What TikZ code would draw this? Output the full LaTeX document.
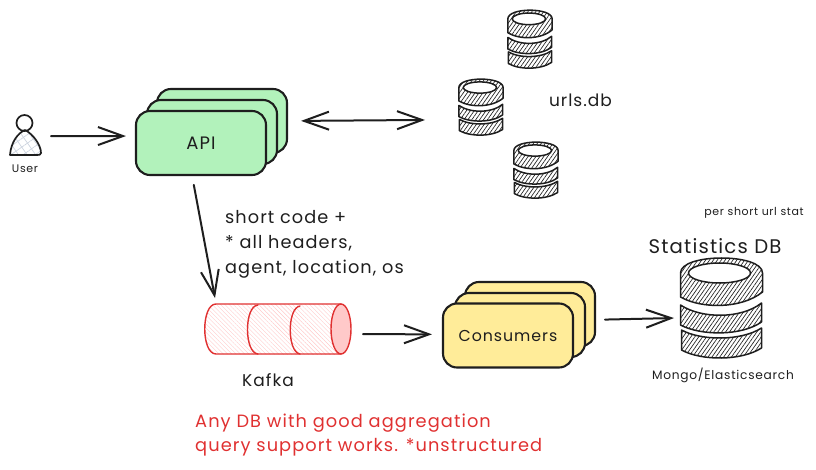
\documentclass[tikz,border=0pt]{standalone}
\usepackage{fontspec}
\setmainfont[LetterSpace=6]{Poppins}
\usetikzlibrary{arrows.meta, patterns.meta}
\definecolor{ink}{HTML}{1E1E1E}
\definecolor{apigreen}{HTML}{B2F2BB}
\definecolor{consumeryellow}{HTML}{FFEC99}
\definecolor{kafkared}{HTML}{E03131}
\definecolor{kafkapink}{HTML}{FFC9C9}
\definecolor{userhatch}{HTML}{CDD4DF}
\begin{document}
\begin{tikzpicture}[x=1pt, y=-1pt, line join=round, line cap=round, color=ink,
  service/.style = {rectangle, draw=ink, line width=2.1pt, rounded corners=14pt, minimum width=130pt, minimum height=64pt, inner sep=0pt},
  apibox/.style = {service, fill=apigreen},
  consumerbox/.style = {service, fill=consumeryellow},
  hollow/.style = {rectangle, inner sep=0pt, outer sep=0pt},
  tag/.style = {inner sep=0pt, text=ink},
  flow/.style = {line width=2pt, -{Straight Barb[length=25pt, width=18pt, line width=2pt]}},
  bothways/.style = {line width=2pt, {Straight Barb[length=25pt, width=18pt, line width=2pt]}-{Straight Barb[length=25pt, width=18pt, line width=2pt]}},
  dbhatch/.style = {draw=ink, line width=1.5pt, preaction={fill=white}, pattern={Lines[angle=55, distance=3.2pt, line width=0.65pt]}, pattern color=ink},
  dbstack/.pic = {
    \path [dbhatch] (-40, 24) -- (-40, 44) .. controls (-20, 55) and (20, 55) .. (40, 42) -- (40, 22) .. controls (20, 35) and (-20, 35) .. (-40, 24) -- cycle;
    \path [dbhatch] (-41, -1) -- (-41, 19) .. controls (-20, 30) and (20, 30) .. (40, 16) -- (40, -3) .. controls (20, 13) and (-20, 13) .. (-41, -1) -- cycle;
    \path [dbhatch] (-41, -33) -- (-41, -9) .. controls (-20, 3) and (20, 3) .. (41, -14) -- (41, -33) .. controls (41, -53) and (-41, -53) .. (-41, -33) -- cycle;
    \draw [line width=1.5pt, fill=white] (-2, -33) ellipse [x radius=31, y radius=10];
  }]
  \useasboundingbox (0, 0) rectangle (816, 470);

  % User.
  \node at (24.5, 123) [circle, draw=ink, line width=1.7pt, fill=white, minimum size=16pt, inner sep=0pt, name=UserHead] {};
  \node at (25.5, 142.5) [hollow, minimum width=31pt, minimum height=25pt, name=UserBody] {};
  \path [pattern={Lines[angle=35, distance=7pt, line width=0.7pt]}, pattern color=userhatch, postaction={pattern={Lines[angle=-55, distance=7pt, line width=0.7pt]}, pattern color=userhatch}]
        (10, 155) .. controls (11, 142) and (18, 133) .. (25, 130) .. controls (33, 134) and (41, 145) .. (41, 153) .. controls (41, 155) and (39, 155) .. (37, 155) -- cycle;
  \draw [line width=1.7pt]
        (10, 155) .. controls (11, 142) and (18, 133) .. (25, 130) .. controls (33, 134) and (41, 145) .. (41, 153) .. controls (41, 155) and (39, 155) .. (37, 155) -- cycle;
  \node at (25, 169) [tag, font=\fontsize{11pt}{12}\selectfont, name=UserText] {User};

  % API.
  \node at (222, 121) [apibox, name=ApiBack] {};
  \node at (212, 132) [apibox, name=ApiMiddle] {};
  \node at (201, 143) [apibox, name=ApiFront, font=\fontsize{18pt}{20}\selectfont] {API};

  % Url databases.
  \node at (530, 39) [hollow, minimum width=44pt, minimum height=58pt, name=UrlsTop] {};
  \pic [xscale=0.54, yscale=0.58] at (530, 38) {dbstack};
  \node at (481, 107) [hollow, minimum width=44pt, minimum height=56pt, name=UrlsMiddle] {};
  \pic [xscale=0.54, yscale=0.56] at (481, 106) {dbstack};
  \node at (536, 170) [hollow, minimum width=44pt, minimum height=56pt, name=UrlsBottom] {};
  \pic [xscale=0.54, yscale=0.56] at (536, 169) {dbstack};
  \node at (580.5, 100) [tag, font=\fontsize{17pt}{19}\selectfont, name=UrlsText] {urls.db};

  % Kafka.
  \node at (278, 329) [hollow, minimum width=146pt, minimum height=50pt, name=Kafka] {};
  \path [pattern={Lines[angle=-45, distance=3pt, line width=0.4pt]}, pattern color=kafkapink]
        (216, 304) .. controls (201, 304) and (201, 354) .. (216, 354) -- (342, 355) -- (342, 304) -- cycle;
  \draw [line width=1.4pt, kafkared]
        (341, 304) -- (216, 304) .. controls (201, 304) and (201, 354) .. (216, 354) -- (341, 354);
  \draw [line width=1.4pt, kafkared]
        (258, 305) .. controls (244, 306) and (244, 353) .. (258, 354);
  \draw [line width=1.4pt, kafkared]
        (300, 306) .. controls (287, 308) and (287, 352) .. (300, 354);
  \draw [line width=1.4pt, kafkared, fill=kafkapink] (341, 329) ellipse [x radius=10, y radius=25];
  \node at (268, 380) [tag, font=\fontsize{17pt}{19}\selectfont, name=KafkaText] {Kafka};

  % Consumers.
  \node at (530, 314) [consumerbox, name=ConsumersBack] {};
  \node at (520, 325) [consumerbox, name=ConsumersMiddle] {};
  \node at (508, 335.5) [consumerbox, name=ConsumersFront, font=\fontsize{15.8pt}{18}\selectfont] {Consumers};

  % Statistics database.
  \node at (721.5, 306) [hollow, minimum width=83pt, minimum height=97pt, name=StatsDb] {};
  \pic at (721.5, 306) {dbstack};
  \node at (754, 213) [tag, font=\fontsize{11pt}{12}\selectfont, name=StatsNote] {per short url stat};
  \node at (715, 246) [tag, font=\fontsize{19.7pt}{22}\selectfont, name=StatsTitle] {Statistics DB};
  \node at (723, 375) [tag, font=\fontsize{12.2pt}{14}\selectfont, name=StatsEngine] {Mongo/Elasticsearch};

  % Notes.
  \node at (225, 244.5) [tag, anchor=west, align=left, font=\fontsize{17.7pt}{25pt}\selectfont, name=EventText] {short code +\\* all headers,\\agent, location, os};
  \node at (195, 435.5) [tag, anchor=west, align=left, text=kafkared, font=\fontsize{17.8pt}{24pt}\selectfont, name=RedNote] {Any DB with good aggregation\\query support works. *unstructured};

  % Connectors.
  \draw [flow, shorten <=10pt, shorten >=9pt] (UserBody.east |- 0, 136) -- (ApiFront.174);
  \draw [bothways, shorten <=13pt, shorten >=34pt] (ApiBack.east) -- (UrlsMiddle.210);
  \draw [flow, shorten <=9pt, shorten >=6pt] (ApiFront.255) -- (Kafka.158);
  \draw [flow, shorten <=12pt, shorten >=10pt] (Kafka.356) -- (ConsumersFront.179);
  \draw [flow, shorten <=9pt, shorten >=6pt] (ConsumersBack.355) -- (StatsDb.196);
\end{tikzpicture}
\end{document}
